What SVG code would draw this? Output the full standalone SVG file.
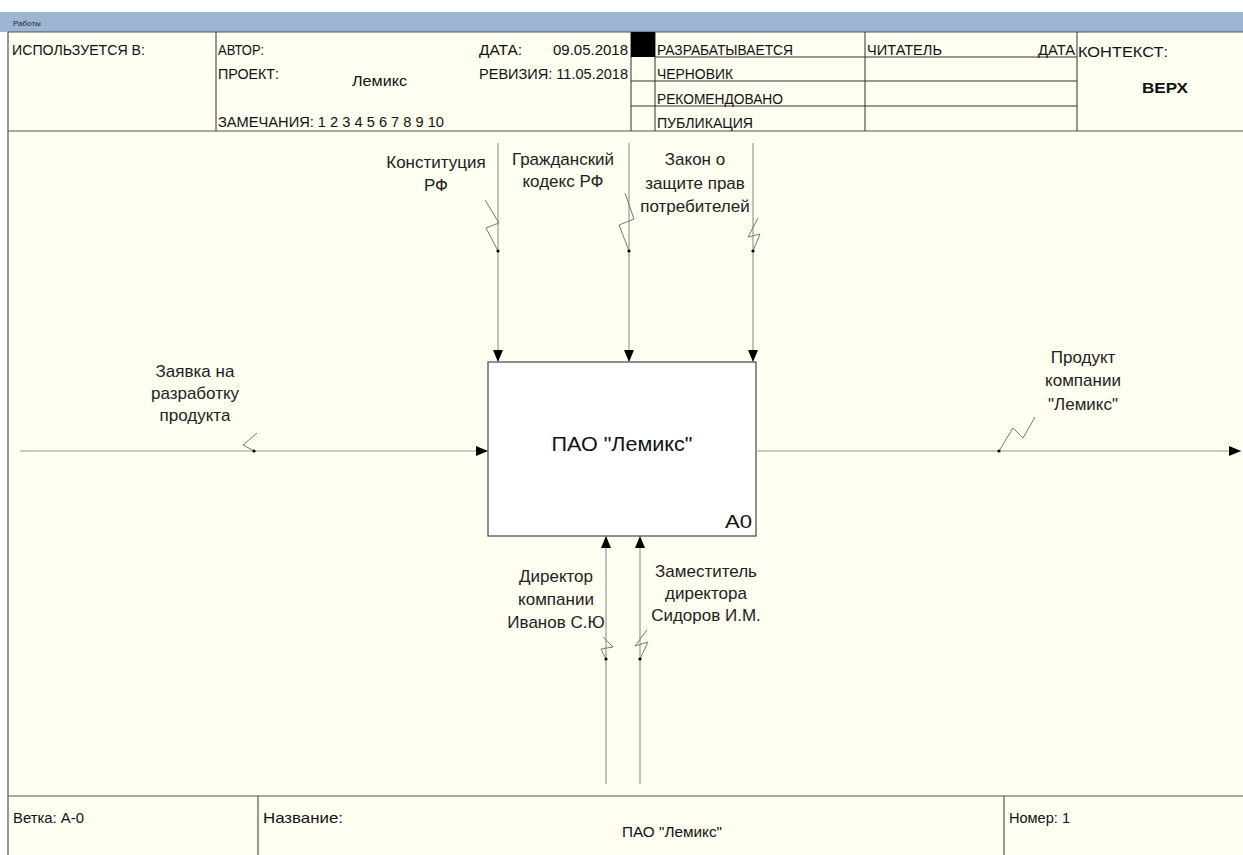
<svg xmlns="http://www.w3.org/2000/svg" width="1243" height="855" viewBox="0 0 1243 855">
<style>
.hd{font-family:"Liberation Sans",Arial,sans-serif;font-size:15px;fill:#111}
.lb{font-family:"Liberation Sans",Arial,sans-serif;font-size:17px;fill:#222;text-anchor:middle}
.frame{stroke:#555;stroke-width:1.2;fill:none}
.thin{stroke:#333;stroke-width:1;fill:none}
.arr{stroke:#999;stroke-width:1.2;fill:none}
.sq{stroke:#777;stroke-width:1;fill:none}
</style>
<defs>
<marker id="ah" markerWidth="12" markerHeight="10" refX="12" refY="5" orient="auto" markerUnits="userSpaceOnUse">
<path d="M0,0 L12,5 L0,10 Z" fill="#000"/>
</marker>
</defs>
<rect x="0" y="0" width="1243" height="855" fill="#fff"/>
<rect x="0" y="12" width="1243" height="20" fill="#9cb5d3"/>
<text x="13" y="26" font-family="Liberation Sans,Arial,sans-serif" font-size="8" fill="#223">Работы</text>
<rect x="8" y="32" width="1235" height="823" fill="#fefef1"/>
<g id="header">
<path class="frame" d="M8,32 H1243 M8,32 V855 M8,131 H1243"/>
<path class="thin" d="M216,32 V131 M631,32 V131 M655,32 V131 M865,32 V131 M1077,32 V131 M655,57 H1077 M631,81 H1077 M631,106 H1077"/>
<rect x="631" y="32" width="24" height="25" fill="#000"/>
<text class="hd" x="12" y="55" textLength="133" lengthAdjust="spacingAndGlyphs">ИСПОЛЬЗУЕТСЯ В:</text>
<text class="hd" x="218" y="55" textLength="46" lengthAdjust="spacingAndGlyphs">АВТОР:</text>
<text class="hd" x="218" y="79" textLength="61" lengthAdjust="spacingAndGlyphs">ПРОЕКТ:</text>
<text class="hd" x="352" y="86" textLength="55" lengthAdjust="spacingAndGlyphs">Лемикс</text>
<text class="hd" x="218" y="127" textLength="226" lengthAdjust="spacingAndGlyphs">ЗАМЕЧАНИЯ: 1 2 3 4 5 6 7 8 9 10</text>
<text class="hd" x="479" y="55" textLength="43" lengthAdjust="spacingAndGlyphs">ДАТА:</text>
<text class="hd" x="553" y="55" textLength="75" lengthAdjust="spacingAndGlyphs">09.05.2018</text>
<text class="hd" x="479" y="79" textLength="149" lengthAdjust="spacingAndGlyphs">РЕВИЗИЯ: 11.05.2018</text>
<text class="hd" x="657" y="55" textLength="136" lengthAdjust="spacingAndGlyphs">РАЗРАБАТЫВАЕТСЯ</text>
<text class="hd" x="657" y="79" textLength="76" lengthAdjust="spacingAndGlyphs">ЧЕРНОВИК</text>
<text class="hd" x="657" y="104" textLength="126" lengthAdjust="spacingAndGlyphs">РЕКОМЕНДОВАНО</text>
<text class="hd" x="657" y="128" textLength="96" lengthAdjust="spacingAndGlyphs">ПУБЛИКАЦИЯ</text>
<text class="hd" x="867" y="55" textLength="75" lengthAdjust="spacingAndGlyphs">ЧИТАТЕЛЬ</text>
<text class="hd" x="1038" y="55" textLength="37" lengthAdjust="spacingAndGlyphs">ДАТА</text>
<text class="hd" x="1078" y="57" font-size="16" textLength="90" lengthAdjust="spacingAndGlyphs">КОНТЕКСТ:</text>
<text class="hd" x="1142" y="93" font-size="15" font-weight="bold" textLength="46" lengthAdjust="spacingAndGlyphs">ВЕРХ</text>
</g>
<g id="footer">
<path class="frame" d="M8,796 H1243 M258,796 V855 M1004,796 V855"/>
<text class="hd" x="13" y="823" textLength="71" lengthAdjust="spacingAndGlyphs">Ветка: А-0</text>
<text class="hd" x="263" y="823" textLength="80" lengthAdjust="spacingAndGlyphs">Название:</text>
<text class="hd" x="622" y="837" textLength="100" lengthAdjust="spacingAndGlyphs">ПАО "Лемикс"</text>
<text class="hd" x="1009" y="823" textLength="61" lengthAdjust="spacingAndGlyphs">Номер: 1</text>
</g>
<g id="A0">
<rect x="488" y="362" width="268" height="174" fill="#fff" stroke="#444" stroke-width="1.2"/>
<text x="622" y="451" font-family="Liberation Sans,Arial,sans-serif" font-size="21" fill="#111" text-anchor="middle" textLength="141" lengthAdjust="spacingAndGlyphs">ПАО "Лемикс"</text>
<text x="725" y="528" font-family="Liberation Sans,Arial,sans-serif" font-size="18" fill="#111" textLength="27" lengthAdjust="spacingAndGlyphs">А0</text>
</g>
<g id="connectors">
<line class="arr" x1="498" y1="143" x2="498" y2="362" marker-end="url(#ah)"/>
<line class="arr" x1="629" y1="143" x2="629" y2="362" marker-end="url(#ah)"/>
<line class="arr" x1="753" y1="143" x2="753" y2="362" marker-end="url(#ah)"/>
<line class="arr" x1="20" y1="451" x2="488" y2="451" marker-end="url(#ah)"/>
<line class="arr" x1="756" y1="451" x2="1241" y2="451" marker-end="url(#ah)"/>
<line class="arr" x1="606" y1="784" x2="606" y2="536" marker-end="url(#ah)"/>
<line class="arr" x1="640" y1="784" x2="640" y2="536" marker-end="url(#ah)"/>
<g id="squiggles">
<polyline class="sq" points="485,200 499,223 486,228 498,251"/>
<polyline class="sq" points="625,193 634,219 619,225 629,251"/>
<polyline class="sq" points="758,218 748,237 760,234 753,251"/>
<polyline class="sq" points="257,433 243,445 254,451"/>
<polyline class="sq" points="999,451 1013,428 1023,438 1035,417"/>
<polyline class="sq" points="603,637 613,647 601,649 606,659"/>
<polyline class="sq" points="647,630 635,646 648,642 640,659"/>
</g>
<g id="dots" fill="#000">
<circle cx="498" cy="251" r="1.6"/>
<circle cx="629" cy="251" r="1.6"/>
<circle cx="753" cy="251" r="1.6"/>
<circle cx="254" cy="451" r="1.6"/>
<circle cx="999" cy="451" r="1.6"/>
<circle cx="606" cy="659" r="1.6"/>
<circle cx="640" cy="659" r="1.6"/>
</g>
</g>
<g id="labels">
<text class="lb" x="436" y="168">Конституция</text>
<text class="lb" x="436" y="191">РФ</text>
<text class="lb" x="563" y="165">Гражданский</text>
<text class="lb" x="563" y="187">кодекс РФ</text>
<text class="lb" x="695" y="165">Закон о</text>
<text class="lb" x="695" y="189">защите прав</text>
<text class="lb" x="695" y="212">потребителей</text>
<text class="lb" x="195" y="377">Заявка на</text>
<text class="lb" x="195" y="399">разработку</text>
<text class="lb" x="195" y="421">продукта</text>
<text class="lb" x="1083" y="363">Продукт</text>
<text class="lb" x="1083" y="386">компании</text>
<text class="lb" x="1083" y="410">"Лемикс"</text>
<text class="lb" x="556" y="582">Директор</text>
<text class="lb" x="556" y="605">компании</text>
<text class="lb" x="556" y="628">Иванов С.Ю</text>
<text class="lb" x="706" y="577">Заместитель</text>
<text class="lb" x="706" y="599">директора</text>
<text class="lb" x="706" y="621">Сидоров И.М.</text>
</g>
</svg>
